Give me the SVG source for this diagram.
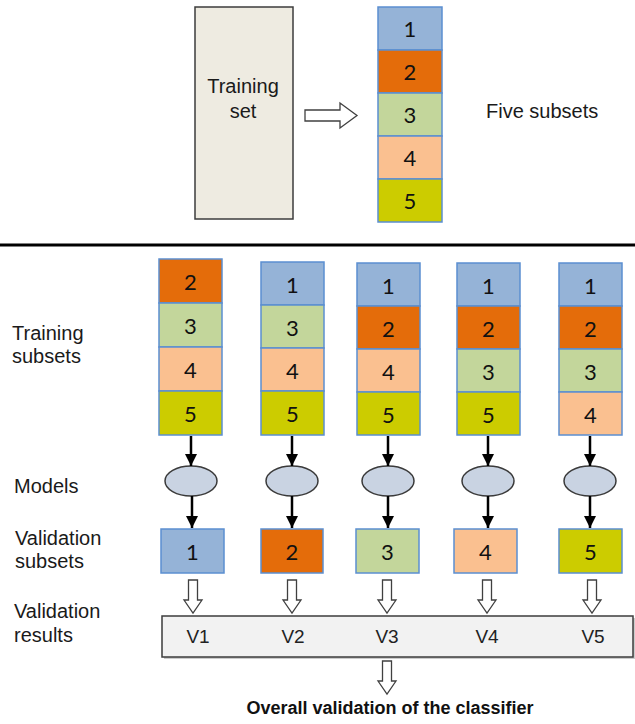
<svg xmlns="http://www.w3.org/2000/svg" width="635" height="724" viewBox="0 0 635 724">
  <defs>
    <style>
      .lbl { font-family: "Liberation Sans", Arial, sans-serif; font-size: 20px; fill: #1a1a1a; }
      .num { font-family: Lato, "Open Sans", sans-serif; font-size: 22px; fill: #111; text-anchor: middle; }
      .v { font-family: "Liberation Sans", Arial, sans-serif; font-size: 19px; fill: #222; text-anchor: middle; }
      .c1 { fill: #95b3d7; stroke: #5b8fd1; stroke-width: 1.5; }
      .c2 { fill: #e46c0a; stroke: #5b8fd1; stroke-width: 1.5; }
      .c3 { fill: #c3d69b; stroke: #5b8fd1; stroke-width: 1.5; }
      .c4 { fill: #fac090; stroke: #5b8fd1; stroke-width: 1.5; }
      .c5 { fill: #cccc00; stroke: #5b8fd1; stroke-width: 1.5; }
      .model { fill: #c9d3e2; stroke: #3a3a3a; stroke-width: 1.5; }
      .link { stroke: #000; stroke-width: 2.5; fill: none; marker-end: url(#head); }
      .hollow { fill: #fff; stroke: #404040; stroke-width: 1.3; }
    </style>
    <marker id="head" viewBox="0 0 10 10" refX="10" refY="5" markerWidth="12" markerHeight="14" orient="auto" markerUnits="userSpaceOnUse">
      <path d="M0,0 L10,5 L0,10 z" fill="#000"/>
    </marker>
    <!-- hollow block arrow pointing down, origin at tip -->
    <path id="down" d="M-4.5,-33 H4.5 V-13 H9 L0,0 L-9,-13 H-4.5 Z"/>
  </defs>

  <rect width="635" height="724" fill="#fff"/>

  <!-- full training set -->
  <g id="training-set">
    <rect x="195" y="7" width="98" height="212" fill="#eeebe1" stroke="#3c3c3c" stroke-width="1.5"/>
    <text class="lbl" x="243" y="93" text-anchor="middle">Training</text>
    <text class="lbl" x="243" y="118" text-anchor="middle">set</text>
  </g>

  <!-- split arrow -->
  <g id="split-arrow">
    <path class="hollow" d="M305,110 H340 V103 L357,115.5 L340,128 V121 H305 Z"/>
  </g>

  <!-- five subsets column -->
  <g id="five-subsets">
    <rect class="c1" x="378" y="7" width="64" height="43"/>
    <rect class="c2" x="378" y="50" width="64" height="43"/>
    <rect class="c3" x="378" y="93" width="64" height="43"/>
    <rect class="c4" x="378" y="136" width="64" height="43"/>
    <rect class="c5" x="378" y="179" width="64" height="43"/>
    <text class="num" x="410" y="37">1</text>
    <text class="num" x="410" y="80">2</text>
    <text class="num" x="410" y="123">3</text>
    <text class="num" x="410" y="166">4</text>
    <text class="num" x="410" y="209">5</text>
  </g>
  <text class="lbl" x="486" y="118">Five subsets</text>

  <!-- divider -->
  <line x1="0" y1="245" x2="635" y2="245" stroke="#000" stroke-width="3"/>

  <!-- row labels -->
  <g id="row-labels">
    <text class="lbl" x="12" y="340">Training</text>
    <text class="lbl" x="12" y="363">subsets</text>
    <text class="lbl" x="14" y="493">Models</text>
    <text class="lbl" x="15" y="545">Validation</text>
    <text class="lbl" x="15" y="568">subsets</text>
    <text class="lbl" x="14" y="618">Validation</text>
    <text class="lbl" x="14" y="642">results</text>
  </g>

  <!-- fold 1 -->
  <g id="fold1">
    <rect class="c2" x="159" y="259" width="63" height="44"/>
    <rect class="c3" x="159" y="303" width="63" height="44"/>
    <rect class="c4" x="159" y="347" width="63" height="44"/>
    <rect class="c5" x="159" y="391" width="63" height="44"/>
    <text class="num" x="190.5" y="290">2</text>
    <text class="num" x="190.5" y="334">3</text>
    <text class="num" x="190.5" y="378">4</text>
    <text class="num" x="190.5" y="422">5</text>
    <ellipse class="model" cx="191" cy="481" rx="26" ry="15"/>
    <rect class="c1" x="161" y="529" width="63" height="44"/>
    <text class="num" x="192.5" y="560">1</text>
  </g>

  <!-- fold 2 -->
  <g id="fold2">
    <rect class="c1" x="261" y="262" width="63" height="43"/>
    <rect class="c3" x="261" y="305" width="63" height="43"/>
    <rect class="c4" x="261" y="348" width="63" height="43"/>
    <rect class="c5" x="261" y="391" width="63" height="44"/>
    <text class="num" x="292.5" y="293">1</text>
    <text class="num" x="292.5" y="336">3</text>
    <text class="num" x="292.5" y="379">4</text>
    <text class="num" x="292.5" y="422">5</text>
    <ellipse class="model" cx="292" cy="481" rx="26" ry="15"/>
    <rect class="c2" x="261" y="529" width="62" height="44"/>
    <text class="num" x="292" y="560">2</text>
  </g>

  <!-- fold 3 -->
  <g id="fold3">
    <rect class="c1" x="357" y="263" width="63" height="43"/>
    <rect class="c2" x="357" y="306" width="63" height="43"/>
    <rect class="c4" x="357" y="349" width="63" height="43"/>
    <rect class="c5" x="357" y="392" width="63" height="43"/>
    <text class="num" x="388.5" y="294">1</text>
    <text class="num" x="388.5" y="337">2</text>
    <text class="num" x="388.5" y="380">4</text>
    <text class="num" x="388.5" y="423">5</text>
    <ellipse class="model" cx="388" cy="481" rx="26" ry="15"/>
    <rect class="c3" x="356" y="529" width="63" height="44"/>
    <text class="num" x="387.5" y="560">3</text>
  </g>

  <!-- fold 4 -->
  <g id="fold4">
    <rect class="c1" x="457" y="263" width="63" height="43"/>
    <rect class="c2" x="457" y="306" width="63" height="43"/>
    <rect class="c3" x="457" y="349" width="63" height="43"/>
    <rect class="c5" x="457" y="392" width="63" height="43"/>
    <text class="num" x="488.5" y="294">1</text>
    <text class="num" x="488.5" y="337">2</text>
    <text class="num" x="488.5" y="380">3</text>
    <text class="num" x="488.5" y="423">5</text>
    <ellipse class="model" cx="488" cy="481" rx="26" ry="15"/>
    <rect class="c4" x="454" y="529" width="63" height="44"/>
    <text class="num" x="485.5" y="560">4</text>
  </g>

  <!-- fold 5 -->
  <g id="fold5">
    <rect class="c1" x="559" y="263" width="63" height="43"/>
    <rect class="c2" x="559" y="306" width="63" height="43"/>
    <rect class="c3" x="559" y="349" width="63" height="43"/>
    <rect class="c4" x="559" y="392" width="63" height="43"/>
    <text class="num" x="590.5" y="294">1</text>
    <text class="num" x="590.5" y="337">2</text>
    <text class="num" x="590.5" y="380">3</text>
    <text class="num" x="590.5" y="423">4</text>
    <ellipse class="model" cx="590" cy="481" rx="26" ry="15"/>
    <rect class="c5" x="559" y="529" width="63" height="44"/>
    <text class="num" x="590.5" y="560">5</text>
  </g>

  <!-- validation results bar -->
  <g id="results">
    <rect x="164" y="618" width="471" height="41" fill="#999" opacity="0.5"/>
    <rect x="162" y="616" width="471" height="41" fill="#f2f2f2" stroke="#3c3c3c" stroke-width="1.5"/>
    <text class="v" x="198" y="643">V1</text>
    <text class="v" x="293" y="643">V2</text>
    <text class="v" x="387" y="643">V3</text>
    <text class="v" x="487" y="643">V4</text>
    <text class="v" x="593" y="643">V5</text>
  </g>

  <!-- overall outcome -->
  <g id="overall">
    <text x="390" y="714" text-anchor="middle" font-family="'Liberation Sans', Arial, sans-serif" font-size="18" font-weight="bold" fill="#111">Overall validation of the classifier</text>
  </g>

  <!-- connectors -->
  <g id="connectors">
    <line class="link" x1="191" y1="436" x2="191" y2="466"/>
    <line class="link" x1="292" y1="436" x2="292" y2="466"/>
    <line class="link" x1="388" y1="436" x2="388" y2="466"/>
    <line class="link" x1="488" y1="436" x2="488" y2="466"/>
    <line class="link" x1="590" y1="436" x2="590" y2="466"/>
    <line class="link" x1="192" y1="496" x2="192" y2="528"/>
    <line class="link" x1="292" y1="496" x2="292" y2="528"/>
    <line class="link" x1="388" y1="496" x2="388" y2="528"/>
    <line class="link" x1="488" y1="496" x2="488" y2="528"/>
    <line class="link" x1="590" y1="496" x2="590" y2="528"/>
    <use href="#down" class="hollow" x="193" y="613"/>
    <use href="#down" class="hollow" x="292" y="613"/>
    <use href="#down" class="hollow" x="387" y="613"/>
    <use href="#down" class="hollow" x="487" y="613"/>
    <use href="#down" class="hollow" x="592" y="613"/>
    <use href="#down" class="hollow" x="387" y="694"/>
  </g>
</svg>
